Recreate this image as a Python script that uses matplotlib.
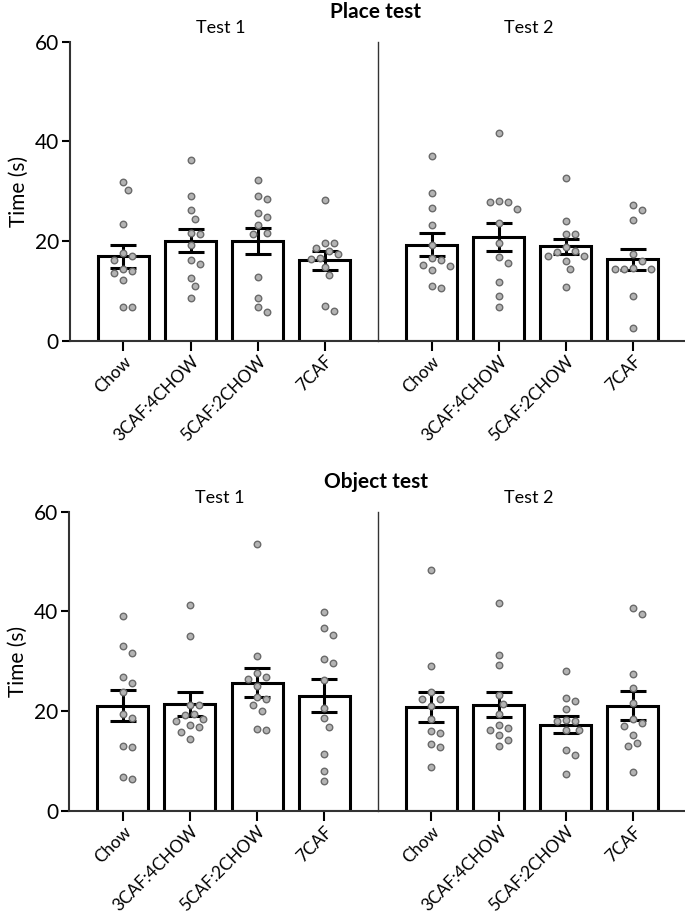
import numpy as np
import matplotlib.pyplot as plt

plt.rcParams['font.family'] = ['Lato', 'DejaVu Sans']

groups = ['Chow', '3CAF:4CHOW', '5CAF:2CHOW', '7CAF']
tests = ['Test 1', 'Test 2']
panels = ['Place test', 'Object test']

# individual values, [test][group]
place_points = [
    [[31.9, 30.2, 23.5, 17.0, 17.5, 16.2, 14.3, 14.0, 13.5, 12.2, 6.7, 6.7],
     [36.3, 29.0, 26.2, 24.5, 21.5, 21.7, 19.3, 15.3, 16.1, 12.6, 11.0, 8.5],
     [32.2, 29.1, 28.4, 24.9, 25.6, 23.2, 21.7, 21.5, 12.8, 8.6, 5.7, 6.7],
     [28.2, 19.7, 19.7, 18.5, 17.9, 17.3, 16.3, 16.5, 14.8, 13.1, 6.0, 7.0]],
    [[37.0, 29.7, 26.7, 23.3, 19.2, 16.2, 16.5, 15.0, 15.1, 14.1, 10.6, 11.0],
     [41.7, 27.8, 26.5, 27.8, 28.1, 23.7, 19.7, 16.8, 15.5, 11.8, 9.0, 6.7],
     [32.7, 24.0, 21.4, 21.4, 18.7, 17.7, 18.0, 16.9, 16.9, 15.9, 14.3, 10.8],
     [27.3, 26.2, 24.3, 17.4, 15.9, 14.4, 14.3, 14.4, 14.6, 9.0, 2.6]],
]
object_points = [
    [[39.1, 33.0, 31.6, 26.8, 25.6, 23.9, 18.7, 19.4, 13.0, 12.8, 6.4, 6.8],
     [41.2, 35.0, 21.2, 21.2, 19.2, 19.4, 18.5, 18.0, 17.3, 16.8, 15.9, 14.4],
     [53.6, 31.0, 26.8, 26.4, 27.7, 25.1, 22.9, 22.5, 21.2, 20.0, 16.3, 16.5],
     [39.9, 36.7, 35.3, 29.7, 30.4, 26.2, 20.7, 18.7, 16.9, 11.3, 7.9, 6.0]],
    [[48.4, 29.1, 23.9, 22.5, 22.5, 21.1, 18.5, 15.5, 16.0, 13.3, 12.8, 8.7],
     [41.6, 31.2, 29.3, 23.2, 21.5, 19.4, 17.3, 16.3, 16.7, 15.1, 14.2, 13.0],
     [28.0, 22.7, 22.1, 20.5, 18.1, 18.2, 18.0, 16.3, 16.3, 12.2, 11.2, 7.4],
     [40.7, 39.5, 27.5, 24.7, 21.7, 18.5, 17.6, 17.0, 15.2, 13.5, 13.0, 7.7]],
]

# bar means and SEM
place_mean = [[16.9, 20.1, 20.0, 16.1], [19.3, 20.8, 18.9, 16.3]]
place_sem = [[2.35, 2.3, 2.65, 1.85], [2.35, 2.85, 1.6, 2.15]]
object_mean = [[21.1, 21.4, 25.7, 23.1], [20.8, 21.3, 17.3, 21.1]]
object_sem = [[3.1, 2.4, 2.95, 3.35], [3.0, 2.45, 1.65, 2.95]]

panel_points = [place_points, object_points]
panel_mean = [place_mean, object_mean]
panel_sem = [place_sem, object_sem]

test_offset = [0.0, 4.6]
divider = 3.8


def swarm(values, center, px_x, px_y, diam=9.0, step=9.0):
    # simple beeswarm: put points as close to the centre as possible
    order = np.argsort(values)[::-1]
    placed = []
    xs = np.zeros(len(values))
    for i in order:
        y = values[i] * px_y
        for k in [0, 1, -1, 2, -2, 3, -3, 4, -4]:
            x = k * step / 2
            if all((x - px) ** 2 + (y - py) ** 2 >= diam ** 2 for px, py in placed):
                break
        placed.append((x, y))
        xs[i] = center + x / px_x
    return xs


fig = plt.figure(figsize=(6.85, 9.17), dpi=100)
axes_rects = [[0.102, 0.6285, 0.905, 0.326], [0.101, 0.1159, 0.906, 0.326]]
title_y = [1 - 12 / 917, 1 - 482 / 917]

for p in range(2):
    ax = fig.add_axes(axes_rects[p])
    ax.set_xlim(-0.8, 8.45)
    ax.set_ylim(0, 60)
    bb = ax.get_window_extent()
    px_x = bb.width / (8.45 + 0.8)
    px_y = bb.height / 60.0
    ticks = []
    for t in range(2):
        xpos = np.arange(len(groups)) + test_offset[t]
        ticks.extend(xpos)
        ax.bar(xpos, panel_mean[p][t], width=0.76, color='white',
               edgecolor='black', linewidth=2.2, zorder=2)
        ax.errorbar(xpos, panel_mean[p][t], yerr=panel_sem[p][t], fmt='none',
                    ecolor='black', elinewidth=2.2, capsize=9.5, capthick=2.2,
                    zorder=3)
        for g in range(len(groups)):
            vals = np.array(panel_points[p][t][g])
            xs = swarm(vals, xpos[g], px_x, px_y)
            ax.scatter(xs, vals, s=22, color='#b3b3b3', edgecolors='#6a6a6a',
                       linewidths=1.0, zorder=4)
        ax.text(np.mean(xpos) - 0.05, 61.2, tests[t], ha='center', va='bottom',
                fontsize=13)
    ax.plot([divider, divider], [0, 60], color='#333333', lw=1.0,
            zorder=1, clip_on=False)
    ax.set_xticks(ticks)
    ax.set_xticklabels(groups * 2, rotation=45, ha='right',
                       rotation_mode='anchor', fontsize=12.3)
    ax.set_yticks([0, 20, 40, 60])
    ax.tick_params(axis='y', labelsize=15, length=6, width=1.5, pad=2)
    ax.tick_params(axis='x', length=7, width=1.5, pad=2)
    ax.set_ylabel('Time (s)', fontsize=15, labelpad=4)
    for s in ['top', 'right']:
        ax.spines[s].set_visible(False)
    for s in ['left', 'bottom']:
        ax.spines[s].set_linewidth(1.5)
        ax.spines[s].set_color('#333333')
    fig.text(376 / 685, title_y[p], panels[p], ha='center', va='center',
             fontsize=15, fontweight='bold')

fig.savefig('out.png', dpi=100)
